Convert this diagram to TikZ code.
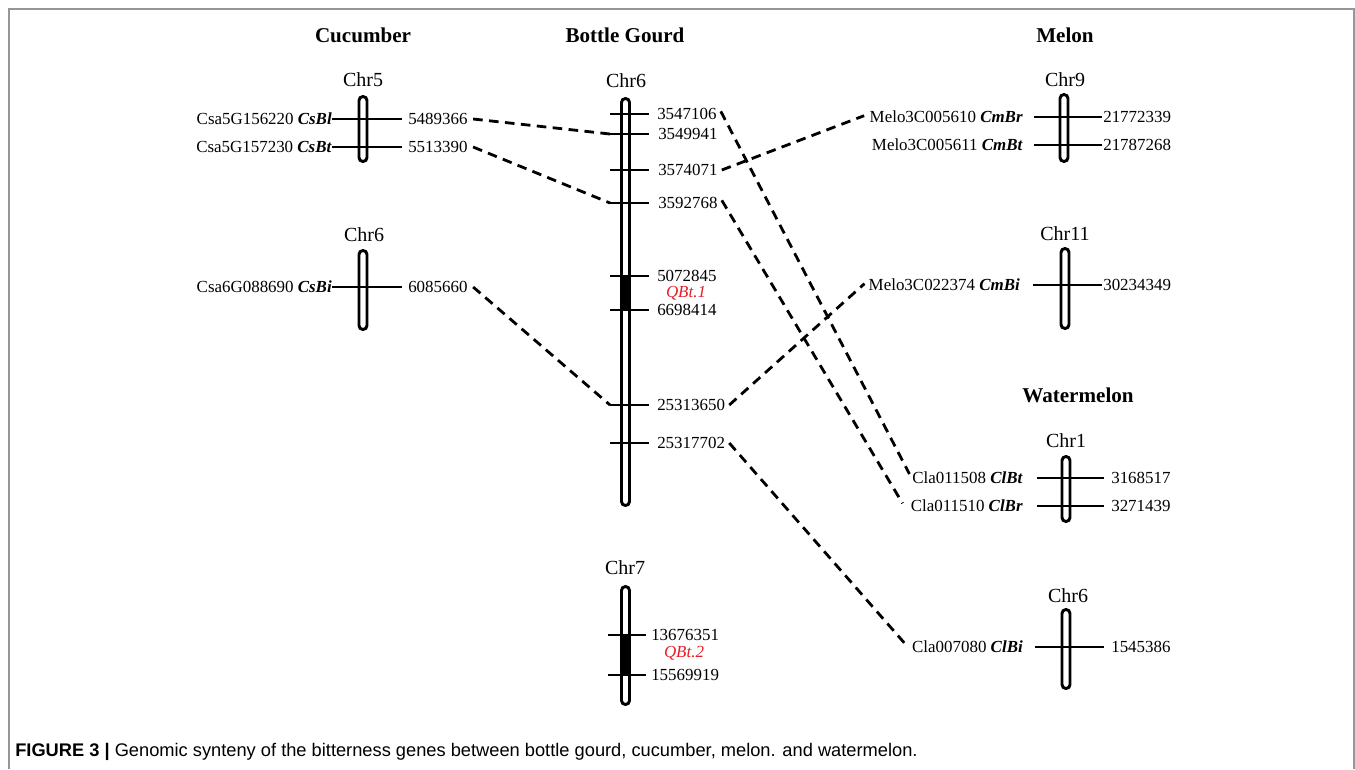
\documentclass[tikz,border=0pt]{standalone}
\usepackage{fontspec}
\setmainfont{Liberation Serif}
\newfontfamily\capfont{Liberation Sans}
\definecolor{qred}{RGB}{230,30,40}
\definecolor{framegray}{RGB}{150,150,150}
\newcommand\chromo[4]{\node[chrom, minimum height={(#4-#3-3)*0.75pt}] (#1) at (#2,{(#3+#4)/2}) {};}
\newcommand\tickline[4]{\draw[tickst] (#2,#4) coordinate (#1-w) -- (#3,#4) coordinate (#1-e);}
\begin{document}
\begin{tikzpicture}[x=0.75pt,y=-0.75pt,
  chrom/.style={draw, line width=2.2pt, rounded corners=2.95pt, inner sep=0pt, minimum width=6pt},
  tickst/.style={line width=0.9pt},
  lbl/.style={inner sep=0pt, font=\fontsize{12.7}{14}\selectfont},
  genel/.style={lbl, anchor=east},
  posl/.style={lbl, anchor=west},
  chrlbl/.style={inner sep=0pt, font=\fontsize{15}{17}\selectfont},
  titlel/.style={inner sep=0pt, font=\fontsize{15.8}{18}\selectfont\bfseries},
  qtl/.style={inner sep=0pt, font=\fontsize{12.7}{14}\selectfont\itshape, text=qred},
  syn/.style={line width=2.1pt, dash pattern=on 7.2pt off 4.8pt},
  bandfill/.style={fill=black}]
\useasboundingbox (0,0) rectangle (1355,769);
% frame
\draw[framegray, line width=1.2pt] (9,769) -- (9,9) -- (1354,9) -- (1354,769);

% titles
\node[titlel] (tcuc) at (363,35) {Cucumber};
\node[titlel] (tbg) at (625,35) {Bottle Gourd};
\node[titlel] (tmel) at (1065,35) {Melon};
\node[titlel] (twat) at (1078,395) {Watermelon};

% ---------- Cucumber ----------
\node[chrlbl] (lc5) at (363,80) {Chr5};
\tickline{c5a}{332}{402}{119}
\tickline{c5b}{332}{402}{147}
\chromo{cuc5}{363}{95}{163}
\node[genel] (csbl) at (332,119) {Csa5G156220 \textbf{\textit{CsBl}}};
\node[genel] (csbt) at (332,147) {Csa5G157230 \textbf{\textit{CsBt}}};
\node[posl] (p5489366) at (408,119) {5489366};
\node[posl] (p5513390) at (408,147) {5513390};

\node[chrlbl] (lc6) at (364,235) {Chr6};
\tickline{c6a}{332}{402}{287}
\chromo{cuc6}{363}{249}{331}
\node[genel] (csbi) at (332,287) {Csa6G088690 \textbf{\textit{CsBi}}};
\node[posl] (p6085660) at (408,287) {6085660};

% ---------- Bottle gourd ----------
\node[chrlbl] (lb6) at (626,81) {Chr6};
\fill[bandfill] (620,276) rectangle (631,310);
\chromo{bg6}{625.5}{97}{507}
\tickline{b1}{610}{649}{114}
\tickline{b2}{610}{649}{134}
\tickline{b3}{610}{649}{170}
\tickline{b4}{610}{649}{203}
\tickline{b5}{610}{649}{276}
\tickline{b6}{610}{649}{310}
\tickline{b7}{610}{649}{405}
\tickline{b8}{610}{649}{443}
\node[posl] (p3547106) at (657,114) {3547106};
\node[posl] (p3549941) at (658,134) {3549941};
\node[posl] (p3574071) at (658,170) {3574071};
\node[posl] (p3592768) at (658,203) {3592768};
\node[posl] (p5072845) at (657,276) {5072845};
\node[qtl] (qbt1) at (686,293) {QBt.1};
\node[posl] (p6698414) at (657,310) {6698414};
\node[posl] (p25313650) at (657,405) {25313650};
\node[posl] (p25317702) at (657,443) {25317702};

\node[chrlbl] (lb7) at (625,568) {Chr7};
\fill[bandfill] (620,635) rectangle (631,675);
\chromo{bg7}{625.5}{585}{706}
\tickline{b9}{608}{646}{635}
\tickline{b10}{608}{646}{675}
\node[posl] (p13676351) at (651,635) {13676351};
\node[qtl] (qbt2) at (684,653) {QBt.2};
\node[posl] (p15569919) at (651,675) {15569919};

% ---------- Melon ----------
\node[chrlbl] (lm9) at (1065,80) {Chr9};
\tickline{m1}{1034}{1102}{117}
\tickline{m2}{1034}{1102}{145}
\chromo{mel9}{1064}{93}{163}
\node[genel] (cmbr) at (1023,117) {Melo3C005610 \textbf{\textit{CmBr}}};
\node[genel] (cmbt) at (1023,145) {Melo3C005611 \textbf{\textit{CmBt}}};
\node[posl] (p21772339) at (1103,117) {21772339};
\node[posl] (p21787268) at (1103,145) {21787268};

\node[chrlbl] (lm11) at (1065,234) {Chr11};
\tickline{m3}{1033}{1102}{285}
\chromo{mel11}{1065}{247}{330}
\node[genel] (cmbi) at (1020,285) {Melo3C022374 \textbf{\textit{CmBi}}};
\node[posl] (p30234349) at (1103,285) {30234349};

% ---------- Watermelon ----------
\node[chrlbl] (lw1) at (1066,441) {Chr1};
\tickline{w1}{1037}{1104}{478}
\tickline{w2}{1037}{1104}{506}
\chromo{wat1}{1066}{455}{523}
\node[genel] (clbt) at (1023,478) {Cla011508 \textbf{\textit{ClBt}}};
\node[genel] (clbr) at (1023,506) {Cla011510 \textbf{\textit{ClBr}}};
\node[posl] (p3168517) at (1111,478) {3168517};
\node[posl] (p3271439) at (1111,506) {3271439};

\node[chrlbl] (lw6) at (1068,596) {Chr6};
\tickline{w3}{1035}{1104}{647}
\chromo{wat6}{1066}{608}{690}
\node[genel] (clbi) at (1023,647) {Cla007080 \textbf{\textit{ClBi}}};
\node[posl] (p1545386) at (1111,647) {1545386};

% ---------- synteny connectors ----------
\draw[syn] ([xshift=4pt]p5489366.east) -- (b2-w);
\draw[syn] ([xshift=4pt]p5513390.east) -- (b4-w);
\draw[syn] ([xshift=4pt]p6085660.east) -- (b7-w);
\draw[syn] ([xshift=3pt,yshift=2pt]p3547106.east) -- ([xshift=-2pt,yshift=3pt]clbt.west);
\draw[syn] ([xshift=3pt]p3574071.east) -- ([xshift=-4pt,yshift=1pt]cmbr.west);
\draw[syn] ([xshift=3pt,yshift=2pt]p3592768.east) -- ([xshift=-6pt,yshift=2pt]clbr.west);
\draw[syn] ([xshift=3pt]p25313650.east) -- ([xshift=-3pt,yshift=1pt]cmbi.west);
\draw[syn] ([xshift=3pt]p25317702.east) -- ([xshift=-3pt]clbi.west);

% caption
\node[anchor=west, inner sep=0pt, font=\capfont\fontsize{13.7}{15}\selectfont] (cap) at (15,752)
  {\textbf{FIGURE 3 |} Genomic synteny of the bitterness genes between bottle gourd, cucumber, melon. and watermelon.};
\end{tikzpicture}
\end{document}
